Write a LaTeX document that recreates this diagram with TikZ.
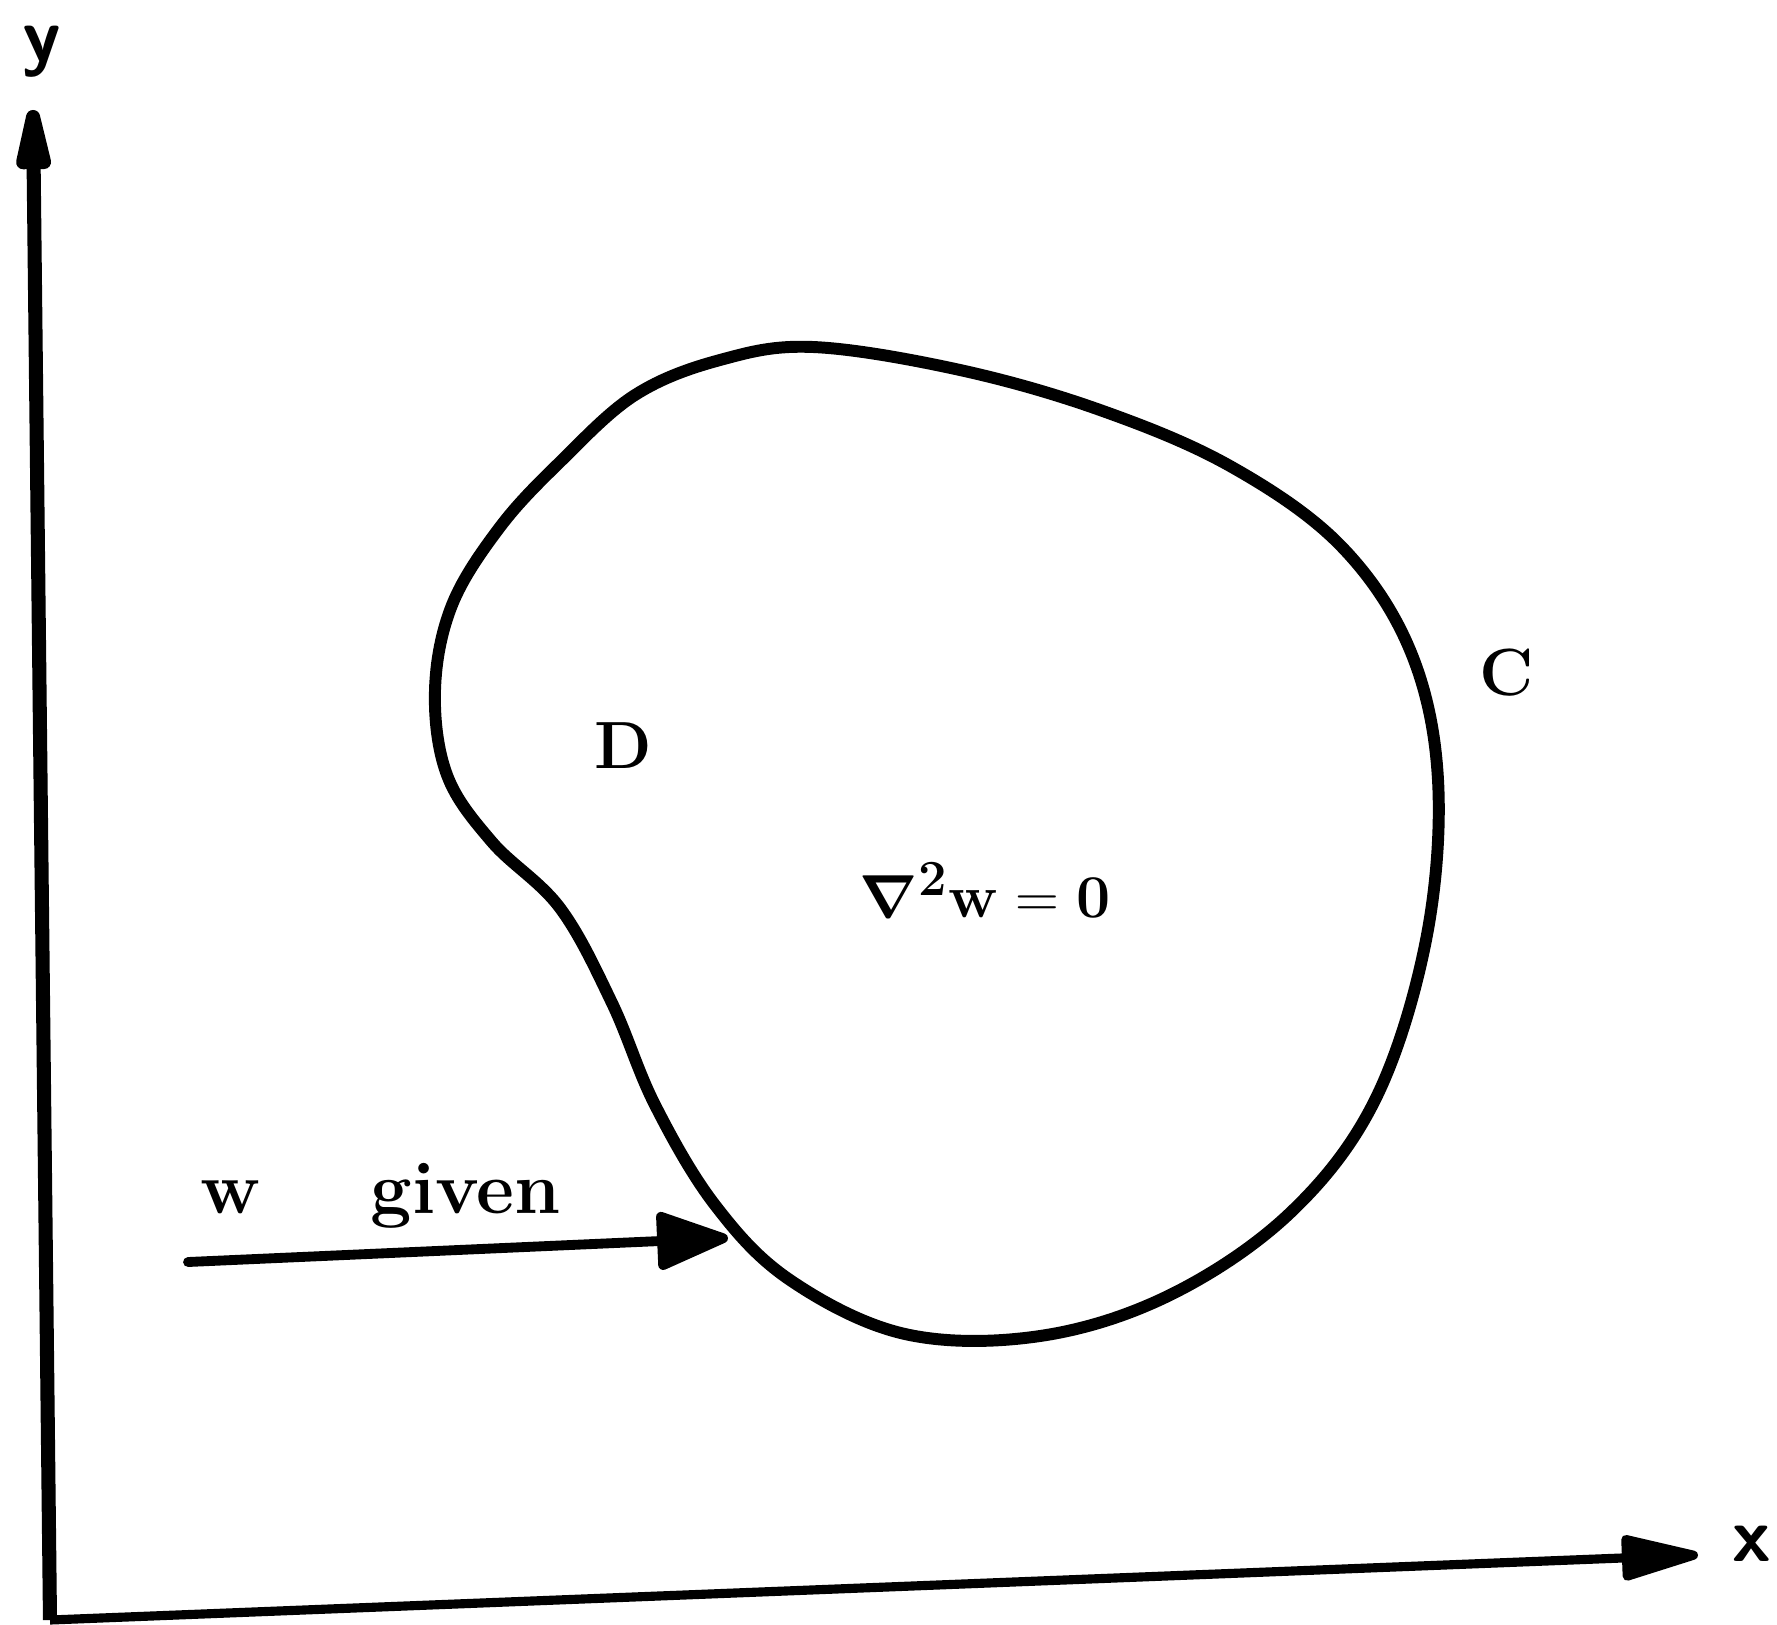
\documentclass[tikz,border=0pt]{standalone}
\usepackage{amsmath}
\usepackage{tikz}
\usetikzlibrary{arrows.meta,positioning,calc}

\newcommand{\laplaceeq}{\ensuremath{\boldsymbol{\nabla}^{\mathbf{2}}\mathbf{w} = \mathbf{0}}}

\begin{document}
\begin{tikzpicture}[
    x=0.1mm, y=-0.1mm,
    axis/.style 2 args={
        line width=#1,
        -{Triangle[length=9mm,width=#2,round]}
    },
    boundary/.style={
        line width=3.4pt,
        line join=round
    },
    feed/.style={
        line width=2.8pt,
        line cap=round,
        -{Triangle[length=8mm,width=6mm,round]}
    },
    axis label/.style={
        font=\fontsize{22}{24}\selectfont\sffamily\bfseries,
        inner sep=0pt
    },
    region label/.style={
        font=\fontsize{19}{22}\selectfont\bfseries,
        inner sep=0pt
    }
]
\useasboundingbox (0,0) rectangle (1777,1624);

% Axes (the scan is slightly tilted)
\coordinate (origin) at (50,1620);
\coordinate (ytip)   at (33,110);
\coordinate (xtip)   at (1698,1555);
\draw[axis={4pt}{3.4mm}]   (origin) -- (ytip);
\draw[axis={2.6pt}{4.6mm}] (origin) -- (xtip);
\node[axis label] (ylab) at (42,52)    {y};
\node[axis label] (xlab) at (1752,1544) {x};

% Boundary C of the domain D
\draw[boundary] plot[smooth cycle, tension=0.6] coordinates {
    (813,347) (960,370) (1100,410) (1230,466) (1340,545) (1410,650)
    (1438,780) (1426,940) (1375,1100) (1290,1213) (1170,1295)
    (1040,1336) (905,1334) (790,1280) (715,1205) (655,1105)
    (612,1003) (560,908) (492,842) (447,775) (435,690) (452,605)
    (500,527) (560,462) (635,395) (720,360)};

% Labels
\node[region label] (C)  at (1507,673) {C};
\node[region label] (D)  at (623,746)  {D};
\node[region label] (eq) at (985,890)  {\laplaceeq};

% Boundary data
\node[region label, font=\fontsize{21}{23}\selectfont\bfseries, anchor=base west]
    (given) at (200,1213) {w\hspace{11mm}given};
\coordinate (wstart) at (188,1262);
\coordinate (wtip)   at (728,1238);
\draw[feed] (wstart) -- (wtip);

\end{tikzpicture}
\end{document}
